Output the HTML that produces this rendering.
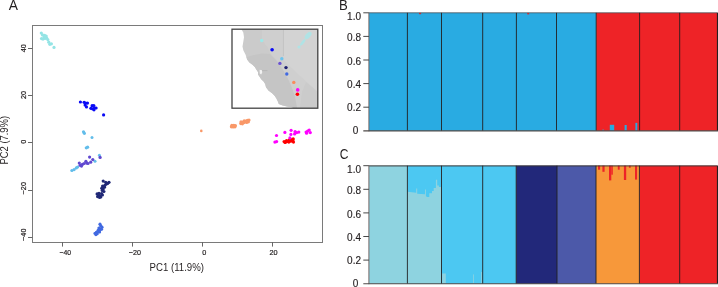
<!DOCTYPE html>
<html><head><meta charset="utf-8">
<style>
html,body{margin:0;padding:0;background:#fff;width:718px;height:287px;overflow:hidden}
svg{display:block;font-family:"Liberation Sans",sans-serif;will-change:transform}
</style></head><body>
<svg width="718" height="287" viewBox="0 0 718 287">
<defs><filter id="bl" x="-20%" y="-20%" width="140%" height="140%"><feGaussianBlur stdDeviation="0.7"/></filter></defs>
<!-- ===== Panel A ===== -->
<text x="8.8" y="9.8" font-size="13.8" fill="#231f20" textLength="9.2" lengthAdjust="spacingAndGlyphs">A</text>
<rect x="32.5" y="25.5" width="290" height="217" fill="none" stroke="#7a7a7a" stroke-width="1"/>
<g stroke="#666" stroke-width="1">
<line x1="62.5" y1="242" x2="62.5" y2="246.6"/>
<line x1="132.5" y1="242" x2="132.5" y2="246.6"/>
<line x1="202.5" y1="242" x2="202.5" y2="246.6"/>
<line x1="272.5" y1="242" x2="272.5" y2="246.6"/>
<line x1="28" y1="48.5" x2="32.5" y2="48.5"/>
<line x1="28" y1="95.5" x2="32.5" y2="95.5"/>
<line x1="28" y1="142.5" x2="32.5" y2="142.5"/>
<line x1="28" y1="190.5" x2="32.5" y2="190.5"/>
<line x1="28" y1="237.5" x2="32.5" y2="237.5"/>
</g>
<g font-size="7.3" fill="#231f20" stroke="#231f20" stroke-width="0.2">
<text x="59.4" y="255.1" textLength="11.6" lengthAdjust="spacingAndGlyphs">&#8722;40</text>
<text x="128.7" y="255.1" textLength="12.2" lengthAdjust="spacingAndGlyphs">&#8722;20</text>
<text x="204.4" y="255.1" text-anchor="middle">0</text>
<text x="273.45" y="255.1" text-anchor="middle">20</text>
<text transform="translate(25.8,48.3) rotate(-90)" text-anchor="middle">40</text>
<text transform="translate(25.8,95) rotate(-90)" text-anchor="middle">20</text>
<text transform="translate(25.8,141.8) rotate(-90)" text-anchor="middle">0</text>
<text transform="translate(25.8,188.2) rotate(-90)" text-anchor="middle">&#8722;20</text>
<text transform="translate(25.8,234.75) rotate(-90)" text-anchor="middle">&#8722;40</text>
</g>
<text x="149.6" y="271.2" font-size="10.4" fill="#231f20" textLength="54.4" lengthAdjust="spacingAndGlyphs">PC1 (11.9%)</text>
<text transform="translate(7.9,164.5) rotate(-90)" font-size="10.4" fill="#231f20" textLength="48.6" lengthAdjust="spacingAndGlyphs">PC2 (7.9%)</text>

<!-- inset map -->
<g>
<rect x="232" y="29.2" width="85.8" height="79" fill="#fff"/>
<path d="M241.4,29.2 L243.3,32.6 L244,37.2 L243.3,41.8 L242.5,46.4 L243.3,50.2 L245.6,54.8 L247.1,59.4 L249.4,62.5 L252.5,64.8 L254.8,67.1 L256.3,69.4 L258,72 L258,74.4 L259.6,76.8 L261.2,79.2 L263.6,81.6 L265.2,84 L266,87.2 L268.4,90.4 L272.4,93.6 L274.8,96 L276.4,98.5 L278,101.7 L278.8,104 L282,105.3 L286.9,106.5 L292.5,107.3 L293,108.2 L317.8,108.2 L317.8,29.2 Z" fill="#cbcbcb"/>
<path d="M270,53 L277,61 L283,70 L288,79 L292,88 L295,97 L297,108.2 L317.8,108.2 L317.8,29.2 L262,29.2 L262,40 L268,48 Z" fill="#cfcfcf"/>
<path d="M283.4,29.2 L317.8,29.2 L317.8,92 L300,76 L283.4,60 Z" fill="#d3d3d3"/>
<path d="M300,108.2 L317.8,108.2 L317.8,92 L306,82 L302,92 Z" fill="#cbcbcb"/>
<path d="M246.5,57 L254,55 L262,53.5 L270,54 L277,61 L283,70 L288,79 L292,88 L295,97 L297,108.2 L293,108.2 L292.5,107.3 L286.9,106.5 L282,105.3 L278.8,104 L278,101.7 L276.4,98.5 L274.8,96 L272.4,93.6 L268.4,90.4 L266,87.2 L265.2,84 L263.6,81.6 L261.2,79.2 L259.6,76.8 L258,74.4 L258,72 L256.3,69.4 L254.8,67.1 L252.5,64.8 L249.4,62.5 L247.1,59.4 Z" fill="#c5c5c5"/>


<path d="M259.6,69.8 L262,70.2 L262.2,72.5 L261.2,74.4 L259.8,73.5 Z" fill="#f2f2f2"/><line x1="262" y1="70.6" x2="267.5" y2="70.6" stroke="#a9a9a9" stroke-width="0.5"/>
<line x1="283.4" y1="29.2" x2="283.4" y2="56" stroke="#b9b9b9" stroke-width="0.6"/>
<g fill="#a8e8ea" filter="url(#bl)" opacity="0.8">
<ellipse cx="308.2" cy="35.4" rx="2.3" ry="4.4" transform="rotate(42 308.2 35.4)"/>
<ellipse cx="302.8" cy="42.4" rx="1.4" ry="4" transform="rotate(38 302.8 42.4)"/>
<ellipse cx="299" cy="47" rx="1.6" ry="1.5"/>
</g>
<g>
<circle cx="261.7" cy="40.5" r="1.7" fill="#9beaea"/>
<circle cx="272.1" cy="49.7" r="1.8" fill="#0a0af5"/>
<circle cx="281.8" cy="58.7" r="1.7" fill="#6cc4ee"/>
<circle cx="279.9" cy="63.4" r="1.7" fill="#6a52d2"/>
<circle cx="286" cy="67.6" r="1.7" fill="#1e2070"/>
<circle cx="286.8" cy="74" r="1.7" fill="#4169e1"/>
<circle cx="293.8" cy="82.4" r="1.7" fill="#f98c5c"/>
<circle cx="297.7" cy="89.9" r="1.8" fill="#ff00ff"/>
<circle cx="297.4" cy="94.3" r="1.8" fill="#ff0000"/>
</g>
<rect x="232" y="29.2" width="85.8" height="79" fill="none" stroke="#444" stroke-width="1.3"/>
</g>

<!-- PCA points -->
<g fill="#94e4e5">
<circle cx="41.3" cy="33.1" r="1.6"/><circle cx="42.5" cy="34.9" r="1.6"/><circle cx="44.6" cy="35.4" r="1.6"/><circle cx="46.2" cy="36" r="1.6"/>
<circle cx="41.5" cy="38.6" r="1.6"/><circle cx="43" cy="39.1" r="1.6"/><circle cx="46.7" cy="38" r="1.6"/><circle cx="47.8" cy="39.6" r="1.6"/>
<circle cx="48.8" cy="42.2" r="1.6"/><circle cx="49.8" cy="44.3" r="1.6"/><circle cx="51.4" cy="43.8" r="1.6"/><circle cx="54" cy="47.4" r="1.6"/>
<circle cx="44" cy="37" r="1.6"/><circle cx="45" cy="38.5" r="1.6"/>
</g>
<g fill="#0a0af5">
<circle cx="80.4" cy="102" r="1.6"/><circle cx="84.1" cy="102.3" r="1.6"/><circle cx="85.7" cy="103.1" r="1.6"/><circle cx="87.5" cy="103.1" r="1.6"/>
<circle cx="85.1" cy="105.1" r="1.6"/><circle cx="86.5" cy="106.9" r="1.6"/><circle cx="92.1" cy="105.7" r="1.6"/><circle cx="93.8" cy="105.5" r="1.6"/>
<circle cx="90.9" cy="108.3" r="1.6"/><circle cx="92.5" cy="108.8" r="1.6"/><circle cx="94.5" cy="107.8" r="1.6"/><circle cx="96.1" cy="108" r="1.6"/>
<circle cx="94" cy="109.8" r="1.6"/><circle cx="103.6" cy="114.9" r="1.6"/>
</g>
<g fill="#62bdea">
<circle cx="83.5" cy="131.8" r="1.6"/><circle cx="84.4" cy="133.3" r="1.6"/><circle cx="92" cy="137.6" r="1.5"/>
<circle cx="86.3" cy="147.8" r="1.6"/><circle cx="87.6" cy="147.2" r="1.6"/>
<circle cx="71.9" cy="170.5" r="1.6"/><circle cx="74.1" cy="169.6" r="1.6"/><circle cx="76.3" cy="167.9" r="1.6"/><circle cx="77.6" cy="167" r="1.6"/>
<circle cx="95" cy="161.3" r="1.5"/><circle cx="99.4" cy="155.2" r="1.5"/>
</g>
<g fill="#6048d0">
<circle cx="79.3" cy="163.1" r="1.6"/><circle cx="80.2" cy="165.3" r="1.6"/><circle cx="81.5" cy="166.1" r="1.6"/><circle cx="82.4" cy="164.4" r="1.6"/>
<circle cx="84.1" cy="163.5" r="1.6"/><circle cx="85.9" cy="161.3" r="1.6"/><circle cx="86.7" cy="163.1" r="1.6"/><circle cx="88" cy="163.5" r="1.6"/>
<circle cx="89.6" cy="157.1" r="1.6"/><circle cx="90.7" cy="162.2" r="1.6"/><circle cx="92.8" cy="159.6" r="1.6"/><circle cx="100.1" cy="157.4" r="1.6"/>
</g>
<g fill="#202876">
<circle cx="103.2" cy="181.1" r="1.6"/><circle cx="105.7" cy="182.3" r="1.6"/><circle cx="109" cy="182.3" r="1.6"/><circle cx="106.3" cy="184.1" r="1.6"/>
<circle cx="102.6" cy="186" r="1.6"/><circle cx="104.5" cy="187.2" r="1.6"/><circle cx="103.2" cy="189" r="1.6"/><circle cx="103.9" cy="191.5" r="1.6"/>
<circle cx="97.1" cy="193.9" r="1.6"/><circle cx="99" cy="193.3" r="1.6"/><circle cx="99.6" cy="195.7" r="1.6"/><circle cx="100.8" cy="197" r="1.6"/>
<circle cx="98.4" cy="195.1" r="1.6"/>
<circle cx="101.8" cy="188.2" r="1.6"/><circle cx="102.2" cy="190.4" r="1.6"/><circle cx="104.8" cy="185.4" r="1.6"/><circle cx="107.6" cy="183.4" r="1.6"/><circle cx="101.6" cy="193.6" r="1.6"/><circle cx="97.6" cy="196.6" r="1.6"/><circle cx="102.4" cy="195" r="1.6"/><circle cx="99.5" cy="197.5" r="1.5"/>
</g>
<g fill="#4169e1">
<circle cx="100" cy="224.2" r="1.6"/><circle cx="100.7" cy="225.9" r="1.6"/><circle cx="102" cy="227.2" r="1.6"/><circle cx="98.9" cy="228.1" r="1.6"/>
<circle cx="100.3" cy="229.4" r="1.6"/><circle cx="98.1" cy="230.3" r="1.6"/><circle cx="98.9" cy="231.6" r="1.6"/><circle cx="96.3" cy="232.4" r="1.6"/>
<circle cx="97.2" cy="233.7" r="1.6"/><circle cx="95.9" cy="234.6" r="1.6"/>
<circle cx="101.6" cy="229.2" r="1.5"/><circle cx="99.6" cy="232" r="1.5"/><circle cx="94.8" cy="233.4" r="1.4"/>
</g>
<g fill="#f99868">
<circle cx="201.3" cy="130.9" r="1.3"/>
<circle cx="231.4" cy="126.8" r="1.6"/><circle cx="233.2" cy="127" r="1.6"/><circle cx="235" cy="126.8" r="1.6"/><circle cx="231.8" cy="125.4" r="1.6"/><circle cx="233.8" cy="125.4" r="1.6"/><circle cx="235.4" cy="125.6" r="1.6"/><circle cx="232.5" cy="126.2" r="1.6"/><circle cx="240.8" cy="123.6" r="1.6"/><circle cx="241" cy="121.9" r="1.6"/><circle cx="242.8" cy="122" r="1.6"/><circle cx="244.2" cy="120.9" r="1.6"/><circle cx="245.8" cy="121.2" r="1.6"/><circle cx="247.4" cy="120.4" r="1.6"/><circle cx="249" cy="120" r="1.6"/><circle cx="244" cy="122.6" r="1.6"/><circle cx="246.6" cy="122.4" r="1.6"/><circle cx="248.4" cy="121.8" r="1.6"/><circle cx="242.4" cy="123.8" r="1.6"/>
</g>
<g fill="#ff0000">
<circle cx="284.1" cy="141.5" r="1.6"/><circle cx="285.7" cy="142.1" r="1.6"/><circle cx="287.3" cy="141.5" r="1.6"/><circle cx="288.8" cy="142.1" r="1.6"/>
<circle cx="290.4" cy="141.2" r="1.6"/><circle cx="292" cy="141" r="1.6"/><circle cx="293" cy="140" r="1.6"/><circle cx="293.5" cy="142.1" r="1.6"/>
<circle cx="291" cy="139.5" r="1.6"/><circle cx="286.5" cy="140.5" r="1.6"/><circle cx="293.2" cy="138.8" r="1.6"/><circle cx="289" cy="140.2" r="1.6"/><circle cx="285" cy="142.4" r="1.6"/>
</g>
<g fill="#ff00ff">
<circle cx="276.5" cy="135.5" r="1.6"/><circle cx="274.9" cy="142.1" r="1.6"/><circle cx="276.6" cy="141.6" r="1.6"/><circle cx="284.9" cy="132.4" r="1.6"/>
<circle cx="291.1" cy="130.3" r="1.6"/><circle cx="290.9" cy="134.4" r="1.6"/><circle cx="289.9" cy="137.9" r="1.6"/><circle cx="295.1" cy="131.6" r="1.6"/>
<circle cx="294.6" cy="133.9" r="1.6"/><circle cx="296.7" cy="132.6" r="1.6"/><circle cx="298.8" cy="132.1" r="1.6"/><circle cx="306.1" cy="132.1" r="1.6"/>
<circle cx="307.7" cy="131.1" r="1.6"/><circle cx="309.2" cy="130" r="1.6"/><circle cx="310.3" cy="132.6" r="1.6"/><circle cx="306.6" cy="133.2" r="1.6"/>
</g>


<!-- ===== Panel B ===== -->
<text x="338.9" y="10.3" font-size="13.8" fill="#231f20" textLength="8.8" lengthAdjust="spacingAndGlyphs">B</text>
<g id="axB">
<rect x="369" y="12.8" width="227.2" height="118.1" fill="#29abe2"/>
<rect x="596.2" y="12.8" width="121" height="118.1" fill="#ee2327"/>
<g fill="#29abe2">
<rect x="602.5" y="129.5" width="1.2" height="1.4"/>
<rect x="609.8" y="124.8" width="4.4" height="6.1"/>
<rect x="624.6" y="125" width="2.1" height="5.9"/>
<rect x="635.4" y="122.9" width="1.9" height="8"/>
</g>
<g fill="#ee2327">
<rect x="419" y="12.9" width="2.1" height="1.3"/>
<rect x="527.2" y="12.9" width="2" height="1.5"/>
</g>
<line x1="369" y1="12.8" x2="717.5" y2="12.8" stroke="#4a5058" stroke-width="0.8"/>
<g stroke="#231f20" stroke-width="0.9">
<line x1="407.4" y1="12.8" x2="407.4" y2="130.9"/>
<line x1="441.5" y1="12.8" x2="441.5" y2="130.9"/>
<line x1="482.7" y1="12.8" x2="482.7" y2="130.9"/>
<line x1="516.4" y1="12.8" x2="516.4" y2="130.9"/>
<line x1="556.5" y1="12.8" x2="556.5" y2="130.9"/>
<line x1="596.2" y1="12.8" x2="596.2" y2="130.9"/>
<line x1="639.6" y1="12.8" x2="639.6" y2="130.9"/>
<line x1="679.7" y1="12.8" x2="679.7" y2="130.9"/>
<line x1="717.5" y1="12.8" x2="717.5" y2="130.9" stroke-width="1.2"/>
</g>
<line x1="368.9" y1="12.6" x2="368.9" y2="131.3" stroke="#706666" stroke-width="1"/>
<line x1="363.3" y1="130.9" x2="718" y2="130.9" stroke="#4f4a48" stroke-width="1.1"/>
<g stroke="#333" stroke-width="0.9">
<line x1="363.3" y1="12.8" x2="368.9" y2="12.8"/>
<line x1="363.3" y1="36.4" x2="368.9" y2="36.4"/>
<line x1="363.3" y1="60" x2="368.9" y2="60"/>
<line x1="363.3" y1="83.6" x2="368.9" y2="83.6"/>
<line x1="363.3" y1="107.2" x2="368.9" y2="107.2"/>
</g>
<g font-size="10" fill="#231f20" text-anchor="end" stroke="#231f20" stroke-width="0.15">
<text x="361" y="19.8">1.0</text>
<text x="361" y="40.9">0.8</text>
<text x="361" y="64.7">0.6</text>
<text x="361" y="88">0.4</text>
<text x="361" y="111">0.2</text>
<text x="358.4" y="134.3">0</text>
</g>
</g>

<!-- ===== Panel C ===== -->
<text x="339.7" y="158.9" font-size="13.8" fill="#231f20" textLength="8.7" lengthAdjust="spacingAndGlyphs">C</text>
<g transform="translate(0,152.9)">
<rect x="369" y="12.8" width="38.4" height="118.1" fill="#8ed3e0"/>
<rect x="407.4" y="12.8" width="34.1" height="118.1" fill="#4cc8f2"/>
<path d="M407.4,130.9 L407.4,38.8 L412,39.3 L416.2,39.9 L416.2,35.7 L417.2,35.7 L417.2,40.9 L421,41.2 L425,41.4 L425,36.7 L425.9,36.7 L425.9,43 L427,44.1 L429.3,44.1 L429.3,40.4 L432,40.4 L432,38.1 L433.7,38.1 L433.7,35.1 L435.9,35.1 L435.9,26.9 L437.2,26.9 L437.2,32.6 L438.9,32.6 L438.9,34.1 L441.5,34.1 L441.5,130.9 Z" fill="#8ed3e0"/>
<rect x="441.5" y="12.8" width="74.7" height="118.1" fill="#4cc8f2"/>
<g fill="#8ed3e0">
<rect x="442.2" y="120.6" width="3.6" height="10.3"/>
<rect x="473" y="121.5" width="0.8" height="9.4"/>
<rect x="481.2" y="119.1" width="0.9" height="11.8"/>
</g>
<rect x="516.2" y="12.8" width="40.8" height="118.1" fill="#22287a"/>
<rect x="557" y="12.8" width="39" height="118.1" fill="#4c59a9"/>
<rect x="596" y="12.8" width="43.5" height="118.1" fill="#f7983a"/>
<rect x="639.5" y="12.8" width="78" height="118.1" fill="#ee2327"/>
<g fill="#ee2327">
<rect x="598" y="12.8" width="2.1" height="4"/>
<rect x="602.4" y="12.8" width="2.2" height="6.1"/>
<rect x="609" y="12.8" width="2.3" height="14.7"/>
<rect x="611.3" y="12.8" width="1.5" height="9"/>
<rect x="617.8" y="12.8" width="1.9" height="4"/>
<rect x="623.9" y="12.8" width="2.3" height="14.3"/>
<rect x="628.9" y="12.8" width="1.8" height="2.1"/>
<rect x="635" y="12.8" width="2.1" height="13.9"/>
</g>
<line x1="369" y1="13" x2="717.5" y2="13" stroke="#3a3535" stroke-width="1"/>
<g stroke="#231f20" stroke-width="0.9">
<line x1="407.4" y1="12.8" x2="407.4" y2="130.9"/>
<line x1="441.5" y1="12.8" x2="441.5" y2="130.9"/>
<line x1="482.7" y1="12.8" x2="482.7" y2="130.9"/>
<line x1="516.2" y1="12.8" x2="516.2" y2="130.9"/>
<line x1="557" y1="12.8" x2="557" y2="130.9"/>
<line x1="596" y1="12.8" x2="596" y2="130.9"/>
<line x1="639.4" y1="12.8" x2="639.4" y2="130.9"/>
<line x1="679.7" y1="12.8" x2="679.7" y2="130.9"/>
<line x1="717.5" y1="12.8" x2="717.5" y2="130.9" stroke-width="1.2"/>
</g>
<line x1="368.9" y1="12.6" x2="368.9" y2="131.3" stroke="#706666" stroke-width="1"/>
<line x1="363.3" y1="130.9" x2="718" y2="130.9" stroke="#4f4a48" stroke-width="1.1"/>
<g stroke="#333" stroke-width="0.9">
<line x1="363.3" y1="12.8" x2="368.9" y2="12.8"/>
<line x1="363.3" y1="36.4" x2="368.9" y2="36.4"/>
<line x1="363.3" y1="60" x2="368.9" y2="60"/>
<line x1="363.3" y1="83.6" x2="368.9" y2="83.6"/>
<line x1="363.3" y1="107.2" x2="368.9" y2="107.2"/>
</g>
<g font-size="10" fill="#231f20" text-anchor="end" stroke="#231f20" stroke-width="0.15">
<text x="361" y="19.8">1.0</text>
<text x="361" y="40.9">0.8</text>
<text x="361" y="64.7">0.6</text>
<text x="361" y="88">0.4</text>
<text x="361" y="111">0.2</text>
<text x="358.4" y="134.3">0</text>
</g>
</g>
</svg>
</body></html>
